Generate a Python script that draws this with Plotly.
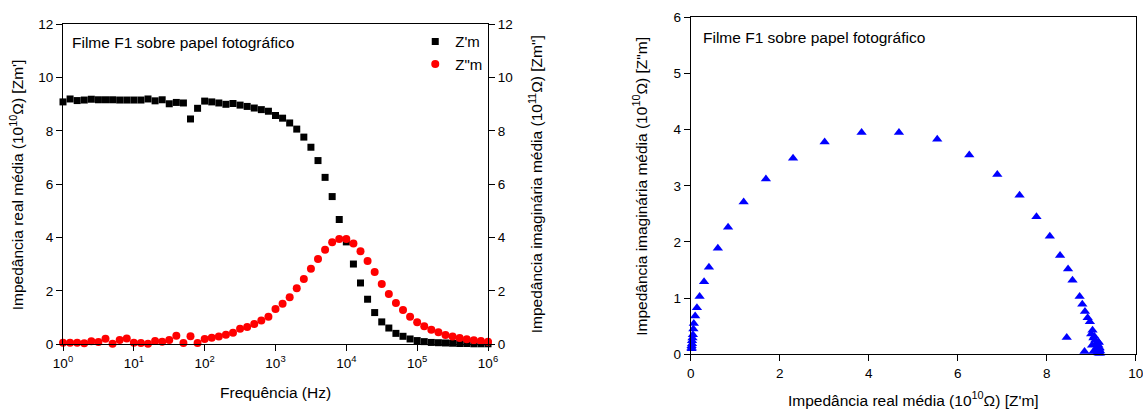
import plotly.graph_objects as go

# Frequencies: 10 points per decade, 1 Hz .. 1 MHz
exponents = [k / 10 for k in range(61)]
freq_hz = [10 ** e for e in exponents]

# Mean real impedance Z'm (10^10 ohm)
z_real = [9.09, 9.20, 9.14, 9.16, 9.19, 9.17, 9.17, 9.17, 9.16, 9.16,
          9.16, 9.16, 9.20, 9.13, 9.17, 9.02, 9.07, 9.05, 8.45, 8.85,
          9.12, 9.09, 9.05, 9.00, 9.03, 8.97, 8.92, 8.86, 8.80, 8.74,
          8.58, 8.48, 8.30, 8.07, 7.77, 7.39, 6.89, 6.26, 5.54, 4.68,
          3.84, 3.01, 2.30, 1.69, 1.19, 0.84, 0.61, 0.41, 0.30, 0.20,
          0.14, 0.10, 0.07, 0.06, 0.05, 0.04, 0.03, 0.03, 0.02, 0.02,
          0.02]

# Mean imaginary impedance Z''m
z_imag = [0.06, 0.06, 0.06, 0.04, 0.11, 0.09, 0.21, 0.02, 0.16, 0.22,
          0.06, 0.05, 0.02, 0.12, 0.10, 0.16, 0.32, 0.05, 0.30, 0.05,
          0.20, 0.25, 0.29, 0.36, 0.43, 0.58, 0.65, 0.76, 0.89, 1.03,
          1.32, 1.52, 1.76, 2.10, 2.45, 2.83, 3.20, 3.55, 3.83, 3.95,
          3.95, 3.78, 3.49, 3.12, 2.71, 2.26, 1.89, 1.55, 1.29, 1.03,
          0.83, 0.68, 0.55, 0.45, 0.35, 0.29, 0.24, 0.19, 0.15, 0.12,
          0.10]

log_tickvals = [1, 10, 100, 1000, 10000, 100000, 1000000]
log_ticktext = ["10<sup>%d</sup>" % i for i in range(7)]

FONT = "Liberation Sans, Arial, sans-serif"
tickfont = dict(family=FONT, size=13.5, color="black")
titlefont = dict(family=FONT, size=15.5, color="black")

fig = go.Figure()

fig.add_trace(go.Scatter(
    x=freq_hz, y=z_real, mode="markers", name="Z'm",
    marker=dict(symbol="square", size=7, color="black"),
    xaxis="x", yaxis="y", cliponaxis=False))
fig.add_trace(go.Scatter(
    x=freq_hz, y=z_imag, mode="markers", name='Z"m',
    marker=dict(symbol="circle", size=8, color="red"),
    xaxis="x", yaxis="y2", cliponaxis=False))
fig.add_trace(go.Scatter(
    x=z_real, y=z_imag, mode="markers", name="Nyquist", showlegend=False,
    marker=dict(symbol="triangle-up", size=9, color="blue"),
    xaxis="x3", yaxis="y3", cliponaxis=False))

common = dict(showline=True, linecolor="black", linewidth=1, ticks="outside",
              ticklen=6, tickcolor="black", tickwidth=1, showgrid=False,
              zeroline=False, tickfont=tickfont, automargin=False,
              ticklabeloverflow="allow")

def title_ann(text, x, y, angle=0):
    return dict(text=text, xref="paper", yref="paper", x=x, y=y,
                xanchor="center", yanchor="middle", textangle=angle,
                showarrow=False, font=titlefont)

fig.update_layout(
    template="none",
    width=1143, height=410,
    margin=dict(l=0, r=0, t=0, b=0, pad=0),
    paper_bgcolor="white", plot_bgcolor="white",
    font=dict(family=FONT, size=13.5, color="black"),
    hovermode=False,
    xaxis=dict(common, type="log", range=[0, 6], domain=[0.05512, 0.42695],
               tickvals=log_tickvals, ticktext=log_ticktext, mirror=True,
               anchor="y"),
    yaxis=dict(common, range=[0, 12], dtick=2, domain=[0.16024, 0.94073],
               anchor="x"),
    yaxis2=dict(common, range=[0, 12], dtick=2, overlaying="y", side="right",
                anchor="x"),
    xaxis3=dict(common, range=[0, 10], dtick=2, domain=[0.60429, 0.99361],
                anchor="y3", mirror=True),
    yaxis3=dict(common, range=[0, 6], dtick=1, domain=[0.13585, 0.95780],
                anchor="x3", mirror=True),
    legend=dict(x=0.3633, y=0.9384, xanchor="left", yanchor="top",
                bgcolor="rgba(0,0,0,0)", borderwidth=0,
                font=dict(family=FONT, size=15, color="black"),
                tracegroupgap=0, itemwidth=30),
    annotations=[
        dict(text="Filme F1 sobre papel fotográfico", xref="paper", yref="paper",
             x=0.0611, y=0.8959, xanchor="left", yanchor="middle",
             showarrow=False, font=titlefont),
        dict(text="Filme F1 sobre papel fotográfico", xref="paper", yref="paper",
             x=0.6133, y=0.9090, xanchor="left", yanchor="middle",
             showarrow=False, font=titlefont),
        title_ann("Frequência (Hz)", 0.24103, 0.0422),
        title_ann("Impedância real média (10<sup>10</sup>Ω) [Z'm]", 0.79895, 0.0270),
        title_ann("Impedância real média (10<sup>10</sup>Ω) [Zm']", 0.01487, 0.5505, -90),
        title_ann('Impedância imaginária média (10<sup>11</sup>Ω) [Zm"]', 0.46894, 0.5505, -90),
        title_ann('Impedância imaginária média (10<sup>10</sup>Ω) [Z"m]', 0.55993, 0.5468, -90),
    ],
)

fig.write_html(
    "out.html",
    config={"displayModeBar": False, "staticPlot": True},
    post_script="document.body.style.margin='0';document.body.style.overflow='hidden';",
)
